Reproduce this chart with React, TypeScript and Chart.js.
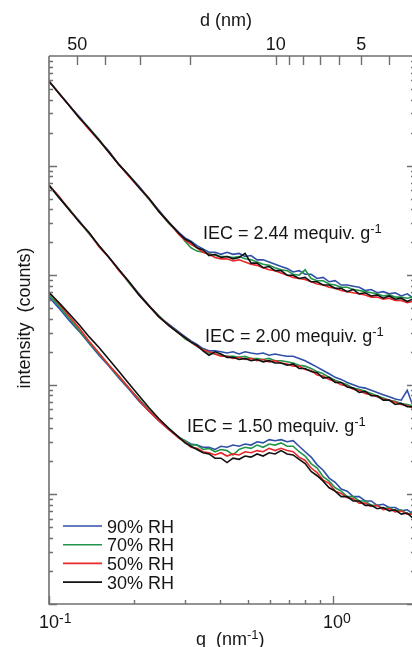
import React, { useEffect, useRef } from "react";
import { Chart, registerables } from "chart.js";

Chart.register(...registerables);

// scattering vector q (nm^-1)
const Q = [0.1, 0.1084, 0.1176, 0.1275, 0.1383, 0.15, 0.1627, 0.1764, 0.1913, 0.2075, 0.225, 0.244, 0.2646, 0.287,
  0.3012, 0.3162, 0.332, 0.3486, 0.366, 0.3842, 0.4034, 0.4235, 0.4447, 0.4669, 0.4902, 0.5146, 0.5403, 0.5673, 0.5956, 0.6253,
  0.6565, 0.6893, 0.7237, 0.7598, 0.7977, 0.8375, 0.8793, 0.9232, 0.9692, 1.0176, 1.0684, 1.1217, 1.1777, 1.2365, 1.2982, 1.363,
  1.431, 1.5024, 1.5774, 1.6561, 1.7388, 1.8256, 1.897, 1.944];

// IEC = 2.44 mequiv/g
const IEC244_RH90 = [5.89e4, 4.57e4, 3.55e4, 2.82e4, 2.19e4, 1.70e4, 1.35e4, 1.02e4, 8130, 6460, 5010, 3890, 3020, 2450,
  2190, 2040, 1860, 1740, 1620, 1620, 1550, 1620, 1550, 1580, 1480, 1510, 1380, 1380, 1320, 1260, 1200, 1150, 1070, 1100,
  1020, 1020, 933, 955, 871, 891, 813, 813, 794, 776, 724, 741, 692, 708, 676, 692, 646, 676, 631, 646];
const IEC244_RH70 = [5.89e4, 4.57e4, 3.55e4, 2.75e4, 2.19e4, 1.74e4, 1.32e4, 1.02e4, 8130, 6310, 4900, 3800, 2950, 2400,
  2040, 1780, 1660, 1620, 1580, 1510, 1480, 1480, 1450, 1480, 1410, 1380, 1320, 1260, 1230, 1170, 1120, 1100, 1020, 1000,
  1120, 933, 891, 891, 832, 813, 776, 776, 741, 724, 708, 692, 676, 646, 661, 631, 631, 617, 631, 603];
const IEC244_RH50 = [5.89e4, 4.57e4, 3.55e4, 2.75e4, 2.14e4, 1.70e4, 1.32e4, 1.02e4, 7940, 6310, 5010, 3800, 3020, 2340,
  2090, 1910, 1780, 1620, 1550, 1450, 1410, 1410, 1350, 1380, 1320, 1260, 1230, 1170, 1120, 1100, 1050, 1000, 955, 933,
  912, 871, 832, 813, 776, 759, 724, 708, 692, 676, 661, 631, 631, 603, 617, 589, 589, 562, 575, 575];
const IEC244_RH30 = [5.89e4, 4.57e4, 3.55e4, 2.75e4, 2.19e4, 1.70e4, 1.32e4, 1.02e4, 8130, 6310, 5010, 3800, 3020, 2400,
  2140, 2000, 1780, 1700, 1510, 1550, 1450, 1480, 1410, 1450, 1580, 1290, 1290, 1170, 1200, 1100, 1100, 1000, 1000, 933,
  955, 871, 871, 813, 813, 759, 759, 708, 741, 676, 692, 646, 661, 617, 646, 603, 617, 575, 603, 589];

// IEC = 2.00 mequiv/g
const IEC200_RH90 = [6610, 5130, 3980, 3160, 2400, 1860, 1450, 1120, 871, 676, 525, 417, 355, 302,
  275, 251, 234, 214, 204, 204, 200, 195, 200, 191, 200, 195, 191, 195, 186, 191, 186, 182, 182, 174,
  166, 155, 145, 135, 126, 117, 112, 105, 100, 95.5, 93.3, 89.1, 85.1, 81.3, 77.6, 74.1, 72.4, 89.1, 67.6, 66.1];
const IEC200_RH70 = [6610, 5130, 4070, 3090, 2400, 1860, 1450, 1120, 851, 661, 525, 427, 347, 295,
  263, 245, 224, 209, 195, 191, 186, 182, 182, 178, 182, 174, 174, 170, 174, 166, 166, 162, 158, 151,
  148, 141, 132, 126, 117, 110, 105, 100, 93.3, 91.2, 87.1, 83.2, 79.4, 75.9, 72.4, 70.8, 67.6, 66.1, 64.6, 63.1];
const IEC200_RH50 = [6610, 5250, 3980, 3090, 2450, 1820, 1450, 1100, 871, 661, 525, 417, 347, 295,
  269, 245, 224, 209, 200, 191, 182, 182, 174, 178, 170, 174, 166, 170, 162, 166, 158, 155, 148, 148,
  138, 135, 123, 120, 112, 107, 100, 97.7, 91.2, 89.1, 83.2, 81.3, 77.6, 74.1, 72.4, 69.2, 66.1, 64.6, 61.7, 61.7];
const IEC200_RH30 = [6610, 5130, 3980, 3090, 2450, 1860, 1450, 1120, 871, 661, 525, 417, 347, 295,
  269, 245, 229, 204, 186, 200, 191, 178, 178, 170, 174, 166, 170, 162, 166, 158, 158, 151, 155, 141,
  141, 132, 129, 115, 117, 105, 105, 95.5, 93.3, 85.1, 87.1, 79.4, 79.4, 72.4, 72.4, 66.1, 67.6, 63.1, 63.1, 60.3];

// IEC = 1.50 mequiv/g
const IEC150_RH90 = [631, 501, 389, 309, 240, 186, 148, 115, 91.2, 70.8, 57.5, 46.8, 38.9, 33.1,
  30.9, 28.8, 28.2, 26.9, 26.9, 25.7, 27.5, 26.9, 28.2, 27.5, 28.8, 28.2, 30.2, 29.5, 31.6, 30.9, 31.6, 30.2, 30.9, 27.5,
  24.5, 21.9, 18.6, 16.6, 14.1, 12.9, 11.2, 10.7, 9.55, 9.55, 8.71, 8.71, 7.94, 8.13, 7.59, 7.59, 7.08, 7.24, 6.76, 6.92];
const IEC150_RH70 = [661, 525, 407, 316, 245, 191, 151, 117, 93.3, 74.1, 58.9, 47.9, 39.8, 33.1,
  30.9, 28.2, 28.2, 25.7, 26.3, 24.5, 25.7, 25.1, 22.9, 25.7, 26.9, 26.3, 28.2, 26.9, 28.8, 28.2, 29.5, 27.5, 27.5, 24.5,
  22.4, 19.1, 17.4, 14.5, 13.2, 11.5, 10.7, 9.55, 9.55, 8.71, 8.71, 7.94, 7.94, 7.41, 7.59, 7.08, 7.24, 6.61, 6.76, 6.31];
const IEC150_RH50 = [708, 550, 427, 331, 251, 195, 151, 120, 93.3, 72.4, 57.5, 46.8, 38.9, 32.4,
  30.2, 26.9, 26.3, 24.5, 24.0, 22.9, 24.0, 22.4, 23.4, 22.9, 24.5, 24.0, 25.1, 24.5, 26.3, 25.1, 26.3, 25.1, 24.5, 21.9,
  20.4, 17.4, 15.8, 13.5, 12.6, 10.7, 10.2, 9.33, 9.12, 8.32, 8.32, 7.76, 7.94, 7.24, 7.41, 6.92, 7.08, 6.61, 6.61, 6.31];
const IEC150_RH30 = [692, 562, 447, 355, 275, 219, 170, 132, 102, 79.4, 61.7, 49.0, 39.8, 33.1,
  29.5, 27.5, 25.7, 24.0, 23.4, 21.4, 21.4, 19.5, 21.4, 20.9, 22.4, 21.9, 23.4, 22.4, 24.0, 23.4, 25.1, 23.4, 22.9, 20.9,
  19.1, 16.2, 14.8, 13.2, 11.5, 10.7, 9.55, 9.55, 8.71, 8.71, 7.94, 7.94, 7.41, 7.59, 7.08, 7.24, 6.61, 6.76, 6.17, 6.31];

const RH_LABELS = ["90% RH", "70% RH", "50% RH", "30% RH"];
const RH_COLORS = ["#2f4fa8", "#23954a", "#e8282b", "#111111"];
const GROUPS = [
  [IEC244_RH90, IEC244_RH70, IEC244_RH50, IEC244_RH30],
  [IEC200_RH90, IEC200_RH70, IEC200_RH50, IEC200_RH30],
  [IEC150_RH90, IEC150_RH70, IEC150_RH50, IEC150_RH30],
];
const IEC_LABELS = ["IEC = 2.44 mequiv. g", "IEC = 2.00 mequiv. g", "IEC = 1.50 mequiv. g"];
const X_MIN = 0.1;
const X_MAX = 1.944;
const Y_MIN = 1;
const Y_MAX = 1e5;
const X_TICKS = [0.1, 0.2, 0.3, 0.4, 0.5, 0.6, 0.7, 0.8, 0.9, 1, 2];
const X_MAJOR = [0.1, 1];
const X_LABELS = [{ v: 0.1, base: "10", sup: "-1" }, { v: 1, base: "10", sup: "0" }];
const D_TICKS = [50, 40, 30, 20, 10, 9, 8, 7, 6, 5, 4];
const D_LABELS = [50, 10, 5];

const FONT = '"Liberation Sans", Arial, Helvetica, sans-serif';
const AXIS = "#707070";
const TEXT = "#151515";

function drawSup(ctx: CanvasRenderingContext2D, parts: { t: string; sup?: boolean }[], x: number, y: number, supSize = 13, rise = 6) {
  let cx = x;
  for (const p of parts) {
    if (p.sup) {
      ctx.font = `${supSize}px ${FONT}`;
      ctx.fillText(p.t, cx, y - rise);
    } else {
      ctx.font = `18px ${FONT}`;
      ctx.fillText(p.t, cx, y);
    }
    cx += ctx.measureText(p.t).width;
  }
}

const framePlugin = {
  id: "frame",
  afterDraw(chart: any) {
    const ctx: CanvasRenderingContext2D = chart.ctx;
    const { left, right, top, bottom } = chart.chartArea;
    const xs = chart.scales.x;
    const ys = chart.scales.y;
    ctx.save();
    ctx.strokeStyle = AXIS;
    ctx.lineWidth = 1.6;
    // frame
    ctx.beginPath();
    ctx.moveTo(left, top);
    ctx.lineTo(left, bottom);
    ctx.lineTo(right, bottom);
    ctx.lineTo(right, top);
    ctx.lineTo(left, top);
    ctx.stroke();
    // y ticks (log)
    ctx.lineWidth = 1.4;
    ctx.beginPath();
    for (let e = 0; e < 5; e++) {
      for (let m = 1; m <= 9; m++) {
        const v = m * Math.pow(10, e);
        if (v < Y_MIN || v > Y_MAX) continue;
        const y = Math.round(ys.getPixelForValue(v)) + 0.5;
        const len = m === 1 ? 8 : 4;
        ctx.moveTo(left, y);
        ctx.lineTo(left + len, y);
        ctx.moveTo(right, y);
        ctx.lineTo(right - len, y);
      }
    }
    // bottom x ticks
    for (const t of X_TICKS) {
      if (t > X_MAX) continue;
      const x = Math.round(xs.getPixelForValue(t)) + 0.5;
      const len = X_MAJOR.includes(t) ? 8 : 4;
      ctx.moveTo(x, bottom);
      ctx.lineTo(x, bottom - len);
    }
    // top d ticks
    for (const d of D_TICKS) {
      const q = (2 * Math.PI) / d;
      if (q > X_MAX) continue;
      const x = Math.round(xs.getPixelForValue(q)) + 0.5;
      ctx.moveTo(x, top);
      ctx.lineTo(x, top + 9);
    }
    ctx.stroke();

    ctx.fillStyle = TEXT;
    ctx.textBaseline = "alphabetic";
    // top labels
    ctx.font = `18px ${FONT}`;
    ctx.textAlign = "center";
    for (const d of D_LABELS) {
      const x = xs.getPixelForValue((2 * Math.PI) / d);
      ctx.fillText(String(d), x, 50);
    }
    ctx.fillText("d (nm)", 226, 26);
    // bottom labels
    ctx.textAlign = "left";
    for (const l of X_LABELS) {
      const x = xs.getPixelForValue(l.v);
      drawSup(ctx, [{ t: l.base }, { t: l.sup, sup: true }], x - 10, 628, 14, 5);
    }
    drawSup(ctx, [{ t: "q  (nm" }, { t: "-1", sup: true }, { t: ")" }], 196, 645, 13, 6);
    // y title
    ctx.save();
    ctx.font = `18px ${FONT}`;
    ctx.translate(30, 318);
    ctx.rotate(-Math.PI / 2);
    ctx.textAlign = "center";
    ctx.fillText("intensity  (counts)", 0, 0);
    ctx.restore();
    // IEC annotations
    ctx.textAlign = "left";
    const iecPos = [[203, 239], [205, 342], [187, 432]];
    IEC_LABELS.forEach((lab, i) => {
      drawSup(ctx, [{ t: lab }, { t: "-1", sup: true }], iecPos[i][0], iecPos[i][1], 13, 6);
    });
    // legend
    RH_LABELS.forEach((lab, i) => {
      const y = 526 + i * 18.7;
      ctx.strokeStyle = RH_COLORS[i];
      ctx.lineWidth = 1.6;
      ctx.beginPath();
      ctx.moveTo(63, y);
      ctx.lineTo(102, y);
      ctx.stroke();
      ctx.fillStyle = TEXT;
      ctx.font = `18px ${FONT}`;
      ctx.fillText(lab, 107, y + 6.5);
    });
    ctx.restore();
  },
};

export default function App() {
  const ref = useRef<HTMLCanvasElement | null>(null);
  useEffect(() => {
    if (!ref.current) return;
    const datasets: any[] = [];
    const drawOrder = [3, 2, 1, 0];
    GROUPS.forEach((group, g) => {
      group.forEach((series, s) => {
        datasets.push({
          label: `${IEC_LABELS[g]} ${RH_LABELS[s]}`,
          data: Q.map((q, i) => ({ x: q, y: series[i] })),
          borderColor: RH_COLORS[s],
          backgroundColor: RH_COLORS[s],
          borderWidth: 1.6,
          pointRadius: 0,
          tension: 0,
          fill: false,
          order: drawOrder[s],
        });
      });
    });
    const chart = new Chart(ref.current, {
      type: "line",
      data: { datasets },
      options: {
        animation: false,
        responsive: false,
        devicePixelRatio: 1,
        layout: { padding: { left: 49, top: 56, right: 1, bottom: 43 } },
        scales: {
          x: { type: "logarithmic", min: X_MIN, max: X_MAX, display: false },
          y: { type: "logarithmic", min: Y_MIN, max: Y_MAX, display: false },
        },
        plugins: { legend: { display: false }, tooltip: { enabled: false } },
      },
      plugins: [framePlugin],
    });
    return () => chart.destroy();
  }, []);
  return (
    <div style={{ position: "absolute", left: 0, top: 0, width: 412, height: 647, overflow: "hidden", background: "#fff" }}>
      <canvas ref={ref} width={416} height={647} style={{ display: "block" }} />
    </div>
  );
}
